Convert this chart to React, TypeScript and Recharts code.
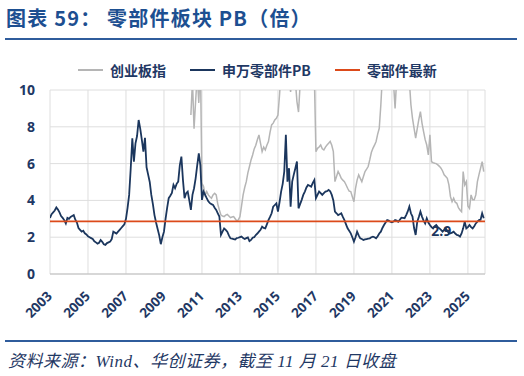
import { CartesianGrid, Line, LineChart, ReferenceDot, ReferenceLine, XAxis, YAxis } from "recharts";

// monthly, Jan 2003 .. Nov 2025
const partsPB = [
  3.05, 3.25, 3.35, 3.45, 3.62, 3.5, 3.35, 3.15, 3.05, 2.93, 2.75, 3.05,
  3.0, 3.1, 3.15, 3.2, 2.95, 2.8, 2.5, 2.4, 2.3, 2.35, 2.21, 2.15,
  2.05, 2.0, 1.95, 1.9, 1.78, 1.72, 1.65, 1.7, 1.85, 1.75, 1.62, 1.58,
  1.68, 1.72, 1.76, 1.9, 2.3, 2.25, 2.2, 2.3, 2.4, 2.5, 2.6, 2.7,
  3.0, 3.6, 4.3, 5.75, 7.38, 6.1, 7.1, 7.5, 8.37, 7.9, 7.3, 6.65,
  7.4, 5.8, 5.4, 5.0, 4.3, 3.8, 3.2, 2.8, 2.45, 2.1, 1.62, 2.0,
  2.3, 3.0, 3.6, 4.12, 4.25, 4.4, 4.84, 4.66, 4.9, 5.02, 5.9, 6.38,
  5.1, 4.12, 4.39, 4.48, 4.0, 3.48, 4.3, 4.66, 5.2, 5.9, 6.56, 5.9,
  4.03, 4.48, 4.3, 4.12, 3.95, 3.85, 3.8, 3.76, 3.6, 3.48, 3.3, 3.12,
  2.12, 2.3, 2.48, 2.4, 2.3, 2.1, 1.94, 1.92, 1.9, 1.88, 1.95, 1.97,
  2.0, 2.03, 1.95, 1.9, 1.95, 1.99, 1.79, 1.85, 1.97, 2.0, 2.12, 2.2,
  2.3, 2.4, 2.57, 2.5, 2.48, 2.7, 2.93, 3.1, 3.3, 3.66, 3.75, 3.84,
  3.39, 3.9, 4.48, 4.9, 5.57, 7.56, 5.02, 5.75, 3.66, 5.02, 5.4, 5.75,
  6.11, 3.57, 3.8, 4.03, 4.3, 4.48, 4.7, 4.84, 4.8, 4.75, 4.95, 5.11,
  4.12, 4.3, 4.48, 4.4, 4.3, 4.4, 4.48, 4.5, 4.57, 4.5, 4.3, 4.0,
  3.39, 3.3, 3.2, 3.25, 3.3, 3.1, 2.93, 2.7, 2.48, 2.35, 2.21, 2.0,
  1.76, 2.0, 2.3, 2.1, 1.94, 1.9, 1.85, 1.88, 1.9, 1.92, 1.94, 2.0,
  2.03, 2.0, 1.94, 2.05, 2.2, 2.3, 2.5, 2.66, 2.8, 2.93, 2.9, 2.84,
  2.81, 2.85, 2.93, 2.9, 2.84, 2.95, 3.06, 3.05, 3.03, 3.2, 3.4, 3.66,
  3.3, 3.12, 2.5, 2.12, 2.84, 3.1, 3.39, 3.12, 2.9, 2.75, 3.03, 2.8,
  2.66, 2.55, 2.48, 2.6, 2.66, 2.55, 2.48, 2.4, 2.3, 2.4, 2.48, 2.35,
  2.21, 2.21, 2.25, 2.3, 2.2, 2.12, 2.1, 2.03, 2.2, 2.48, 2.84, 2.48,
  2.55, 2.66, 2.55, 2.48, 2.6, 2.75, 2.85, 2.93, 2.95, 3.3, 3.03,
];

// monthly, Jun 2010 .. Nov 2025 (values above 10 are cut off by the axis)
const chinextPB = [
  8.64, 10.5, 7.9, 9.4, 10.8, 9.3, 11.5,
  4.93, 4.75, 4.3, 4.48, 4.3, 4.2, 4.12, 4.3, 4.39, 4.3, 3.8, 3.48,
  3.2, 3.15, 3.12, 3.2, 3.24, 3.15, 3.06, 3.1, 3.12, 3.0, 2.88, 2.95,
  3.12, 3.7, 4.3, 4.7, 5.02, 5.5, 5.84, 6.2, 6.47, 6.8, 7.0, 7.3,
  7.56, 7.1, 6.65, 6.9, 6.74, 7.0, 7.2, 7.7, 8.1, 8.2, 8.37, 8.46,
  8.64, 9.73, 11, 12.5, 14, 13, 11.5, 10.8, 9.9, 11, 11.2, 10.5,
  9.37, 8.8, 10.3, 10.8, 11.2, 11, 10.9, 11.2, 10.8, 11, 10.9, 10.7,
  6.65, 6.83, 6.9, 7.01, 6.8, 6.74, 6.9, 7.01, 7.1, 7.2, 7.0, 6.65,
  5.02, 5.3, 5.57, 5.4, 5.2, 5.1, 5.02, 4.85, 4.66, 4.5, 4.48, 4.2,
  3.93, 4.66, 5.1, 5.39, 5.2, 5.02, 5.3, 5.57, 5.7, 5.84, 6.2, 6.6,
  6.83, 7.0, 7.2, 7.6, 7.92, 9.19, 10.8, 11.5, 11.2, 11.0, 11.5, 11.8,
  11, 10.4, 9.0, 10.6, 11.3, 11.8, 12.2, 11.6, 11.0, 11.4, 11.2, 10.5,
  9.2, 8.46, 7.92, 7.38, 7.9, 8.4, 8.82, 8.2, 7.74, 7.3, 7.01, 6.47,
  7.56, 6.1, 6.05, 6.02, 6.0, 5.93, 5.85, 5.75, 5.6, 5.39, 5.3, 5.2,
  4.84, 4.2, 3.93, 4.12, 3.9, 3.84, 3.6, 3.48, 3.39, 5.57, 4.84, 5.02,
  3.7, 3.57, 4.3, 4.03, 4.03, 4.3, 5.02, 5.4, 5.75, 6.11, 5.57,
];

const START_YEAR = 2003;
const CHINEXT_START = 89; // Jun 2010 as month index
const latestPB = 2.86;
const latestLabel = "2.9";
const labelYear = 2023.6;

const yearTicks = [2003, 2005, 2007, 2009, 2011, 2013, 2015, 2017, 2019, 2021, 2023, 2025];
const valueTicks = [0, 2, 4, 6, 8, 10];

const C = {
  title: "#1d4f91",
  rule: "#2f5c9c",
  text: "#1f3864",
  grid: "#dedede",
  axis: "#bfbfbf",
  chinext: "#b5b5b5",
  parts: "#1b365d",
  latest: "#dc4a1a",
};

const rows = partsPB.map((v, i) => ({
  t: START_YEAR + i / 12,
  parts: v,
  chinext: i >= CHINEXT_START ? chinextPB[i - CHINEXT_START] : null,
}));

const font = "'Open Sans', 'Noto Sans CJK SC', sans-serif";

function YearTick(props: any) {
  const { x, y, payload } = props;
  return (
    <g transform={`translate(${x + 3},${y + 23})`}>
      <text
        textAnchor="end"
        transform="rotate(-45)"
        fontSize={13.5}
        fontWeight={700}
        fill={C.text}
        fontFamily={font}
      >
        {payload.value}
      </text>
    </g>
  );
}

function LegendItem({ color, label }: { color: string; label: string }) {
  return (
    <span style={{ display: "inline-flex", alignItems: "center", gap: 7 }}>
      <span style={{ width: 25, height: 1.5, background: color }} />
      <span>{label}</span>
    </span>
  );
}

export default function App() {
  return (
    <div
      style={{
        position: "fixed",
        left: 0,
        top: 0,
        width: 524,
        height: 376,
        background: "#fff",
        fontFamily: "'Noto Sans CJK SC', sans-serif",
      }}
    >
      <div
        style={{
          position: "absolute",
          left: 6,
          top: 3,
          fontSize: 20,
          fontWeight: 700,
          color: C.title,
          whiteSpace: "pre",
          letterSpacing: 1.2,
        }}
      >
        图表 59： 零部件板块 PB（倍）
      </div>
      <div style={{ position: "absolute", left: 5, top: 38, width: 512, height: 2, background: C.rule }} />

      <div
        style={{
          position: "absolute",
          left: 78,
          top: 60,
          display: "flex",
          gap: 24,
          fontSize: 14,
          fontWeight: 700,
          color: C.text,
          whiteSpace: "nowrap",
        }}
      >
        <LegendItem color={C.chinext} label="创业板指" />
        <LegendItem color={C.parts} label="申万零部件PB" />
        <LegendItem color={C.latest} label="零部件最新" />
      </div>

      <div style={{ position: "absolute", left: 0, top: 0 }}>
        <LineChart width={524} height={340} data={rows} margin={{ top: 90, right: 39, bottom: 0, left: 0 }}>
          <CartesianGrid stroke={C.grid} strokeWidth={1} />
          <XAxis
            type="number"
            dataKey="t"
            domain={[2003, 2025.9]}
            ticks={yearTicks}
            height={66}
            tickSize={0}
            tickMargin={0}
            tick={<YearTick />}
            stroke={C.axis}
            allowDataOverflow
          />
          <YAxis
            domain={[0, 10]}
            ticks={valueTicks}
            width={50}
            axisLine={false}
            tickLine={false}
            tickSize={0}
            tickMargin={15}
            tick={{ fill: C.text, fontSize: 14, fontWeight: 700, fontFamily: font }}
            allowDataOverflow
          />
          <Line
            dataKey="chinext"
            stroke={C.chinext}
            strokeWidth={1.5}
            dot={false}
            isAnimationActive={false}
            connectNulls={false}
          />
          <Line dataKey="parts" stroke={C.parts} strokeWidth={1.8} dot={false} isAnimationActive={false} />
          <ReferenceLine y={latestPB} stroke={C.latest} strokeWidth={1.7} />
          <ReferenceDot
            x={labelYear}
            y={latestPB}
            r={0}
            stroke="none"
            label={{
              value: latestLabel,
              position: "bottom",
              offset: 5,
              fill: C.parts,
              fontSize: 14,
              fontWeight: 700,
              fontFamily: font,
            }}
          />
        </LineChart>
      </div>

      <div style={{ position: "absolute", left: 5, top: 340, width: 512, height: 2, background: C.rule }} />
      <div
        style={{
          position: "absolute",
          left: 8,
          top: 347,
          fontSize: 17,
          fontStyle: "italic",
          color: C.text,
          whiteSpace: "pre",
          letterSpacing: 0.5,
          fontFamily: "'Liberation Serif', 'Noto Sans CJK SC', serif",
        }}
      >
        资料来源：Wind、华创证券，截至 11 月 21 日收盘
      </div>
    </div>
  );
}
